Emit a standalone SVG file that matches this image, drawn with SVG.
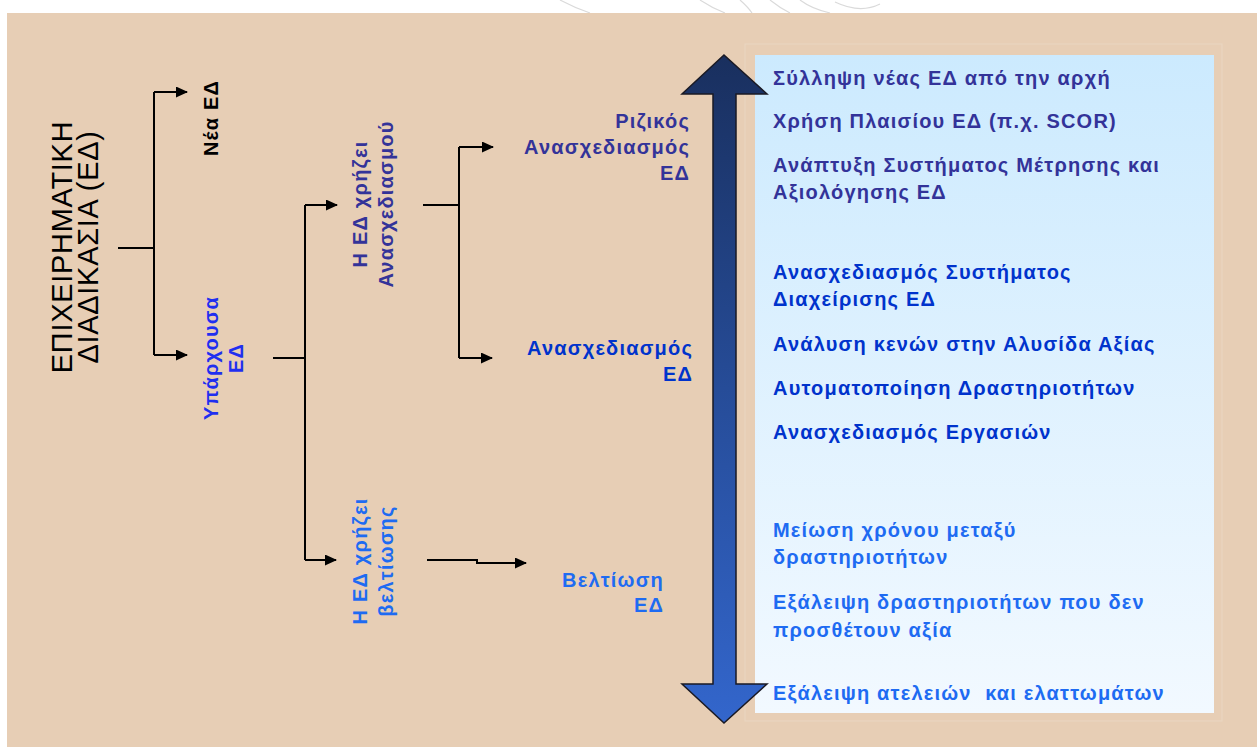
<svg xmlns="http://www.w3.org/2000/svg" width="1257" height="747" viewBox="0 0 1257 747">
<style>
.t{font-family:"Liberation Sans",Arial,sans-serif;font-weight:bold;font-size:20px;letter-spacing:1.2px}
.title{font-family:"Liberation Sans",Arial,sans-serif;font-size:29px;letter-spacing:0.7px;fill:#000}
.k{fill:#000}
.d{fill:#333399}
.m{fill:#0033CC}
.b{fill:#1E6BF2}
.u{fill:#1F2FF0}
.c{fill:none;stroke:#000;stroke-width:2}
</style>
<defs>
<marker id="ah" markerWidth="12" markerHeight="11" refX="11" refY="5.5" orient="auto" markerUnits="userSpaceOnUse"><path d="M0,0 L12,5.5 L0,11 Z" fill="#000"/></marker>
<linearGradient id="arrowG" x1="0" y1="0" x2="0" y2="1"><stop offset="0" stop-color="#192F5E"/><stop offset="0.5" stop-color="#264C98"/><stop offset="1" stop-color="#3366CC"/></linearGradient>
<linearGradient id="panelG" x1="0" y1="0" x2="0" y2="1"><stop offset="0" stop-color="#CCEAFE"/><stop offset="1" stop-color="#F2F9FF"/></linearGradient>
</defs>
<rect x="0" y="0" width="1257" height="747" fill="#FFFFFF"/>
<g id="watermark" fill="none" stroke="#DADADA" stroke-width="1.2">
<path d="M560,0 Q575,8 590,13"/>
<path d="M700,0 Q712,8 725,13"/>
<path d="M740,0 Q748,7 752,13"/>
<path d="M770,0 Q780,8 790,13"/>
<path d="M800,0 Q812,9 830,13"/>
<path d="M835,2 Q860,14 880,4"/>
</g>
<rect id="background" x="7" y="13" width="1250" height="734" fill="#E7CEB5"/>
<rect x="745" y="44" width="477" height="677" fill="none" stroke="#EAD6C2" stroke-width="1"/>
<g id="panel">
<rect x="755" y="55" width="459" height="658" fill="url(#panelG)"/>
</g>
<g id="bigArrow">
<polygon points="724,55 767,94 736,94 736,684 767,684 724,723 682,684 713,684 713,94 682,94" fill="url(#arrowG)" stroke="#1A1A24" stroke-width="1.5" stroke-linejoin="miter"/>
</g>
<g id="connectors">
<path class="c" d="M118,248 H154"/>
<path class="c" d="M154,92 V355"/>
<path class="c" d="M154,92 H187" marker-end="url(#ah)"/>
<path class="c" d="M154,355 H187" marker-end="url(#ah)"/>
<path class="c" d="M273,358 H305"/>
<path class="c" d="M305,205 V560"/>
<path class="c" d="M305,205 H337" marker-end="url(#ah)"/>
<path class="c" d="M305,560 H336" marker-end="url(#ah)"/>
<path class="c" d="M423,205 H459"/>
<path class="c" d="M459,147 V358"/>
<path class="c" d="M459,147 H493" marker-end="url(#ah)"/>
<path class="c" d="M459,358 H492" marker-end="url(#ah)"/>
<path class="c" d="M427,560 H477 V563 H526" marker-end="url(#ah)"/>
</g>
<g id="node-title">
<text class="title" transform="translate(0,247) rotate(-90)" text-anchor="middle"><tspan x="0" y="72">ΕΠΙΧΕΙΡΗΜΑΤΙΚΗ</tspan><tspan x="0" y="98">ΔΙΑΔΙΚΑΣΙΑ (ΕΔ)</tspan></text>
</g>
<g id="node-nea">
<text class="t k" transform="translate(0,118) rotate(-90)" text-anchor="middle"><tspan x="0" y="218">Νέα ΕΔ</tspan></text>
</g>
<g id="node-yparxousa">
<text class="t u" transform="translate(0,358) rotate(-90)" text-anchor="middle"><tspan x="0" y="218">Υπάρχουσα</tspan><tspan x="0" y="243">ΕΔ</tspan></text>
</g>
<g id="node-anasxediasmou">
<text class="t d" transform="translate(0,204) rotate(-90)" text-anchor="middle"><tspan x="0" y="367">Η ΕΔ χρήζει</tspan><tspan x="0" y="393">Ανασχεδιασμού</tspan></text>
</g>
<g id="node-veltiosis">
<text class="t b" transform="translate(0,561) rotate(-90)" text-anchor="middle"><tspan x="0" y="367">Η ΕΔ χρήζει</tspan><tspan x="0" y="393">βελτίωσης</tspan></text>
</g>
<g id="node-rizikos">
<text class="t d" text-anchor="end"><tspan x="690" y="128">Ριζικός</tspan><tspan x="690" y="154">Ανασχεδιασμός</tspan><tspan x="690" y="180">ΕΔ</tspan></text>
</g>
<g id="node-anasxediasmos">
<text class="t m" text-anchor="end"><tspan x="693" y="355">Ανασχεδιασμός</tspan><tspan x="693" y="381">ΕΔ</tspan></text>
</g>
<g id="node-veltiosi">
<text class="t b" text-anchor="end"><tspan x="664" y="587">Βελτίωση</tspan><tspan x="664" y="612">ΕΔ</tspan></text>
</g>
<g id="node-panel-text">
<text class="t d" x="773" y="85">Σύλληψη νέας ΕΔ από την αρχή</text>
<text class="t d" x="773" y="128">Χρήση Πλαισίου ΕΔ (π.χ. SCOR)</text>
<text class="t d"><tspan x="773" y="172">Ανάπτυξη Συστήματος Μέτρησης και</tspan><tspan x="773" y="199">Αξιολόγησης ΕΔ</tspan></text>
<text class="t m"><tspan x="773" y="279">Ανασχεδιασμός Συστήματος</tspan><tspan x="773" y="306">Διαχείρισης ΕΔ</tspan></text>
<text class="t m" x="773" y="351">Ανάλυση κενών στην Αλυσίδα Αξίας</text>
<text class="t m" x="773" y="395">Αυτοματοποίηση Δραστηριοτήτων</text>
<text class="t m" x="773" y="439">Ανασχεδιασμός Εργασιών</text>
<text class="t b"><tspan x="773" y="537">Μείωση χρόνου μεταξύ</tspan><tspan x="773" y="564">δραστηριοτήτων</tspan></text>
<text class="t b"><tspan x="773" y="609">Εξάλειψη δραστηριοτήτων που δεν</tspan><tspan x="773" y="637">προσθέτουν αξία</tspan></text>
<text class="t b" x="773" y="700" xml:space="preserve">Εξάλειψη ατελειών  και ελαττωμάτων</text>
</g>
</svg>
